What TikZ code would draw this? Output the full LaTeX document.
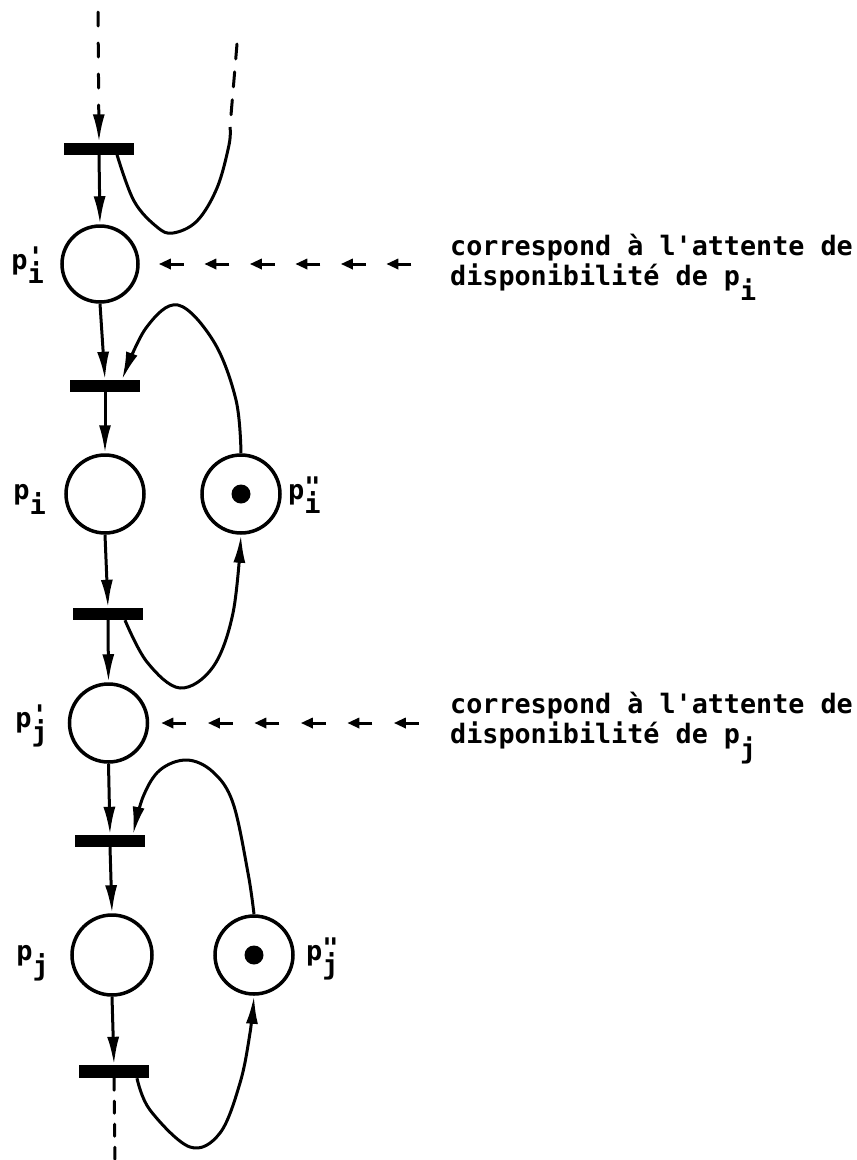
\documentclass[tikz,border=0pt]{standalone}
\usepackage{fontspec}
\usetikzlibrary{arrows.meta,calc}
\newfontfamily\monoreg{DejaVu Sans Mono Bold}
\newfontfamily\monobold{DejaVu Sans Mono Bold}
\newcommand{\labfont}{\monoreg\fontsize{27pt}{31pt}\selectfont}
\newcommand{\txtfont}{\monobold\fontsize{26.75pt}{31pt}\selectfont}
\newcommand{\lowsub}[1]{\raisebox{-15pt}{#1}}
\newcommand{\primesub}[2]{\rlap{\raisebox{3pt}{#1}}\raisebox{-14pt}{#2}}
\tikzset{
  place/.style={circle, draw, line width=3.5pt, minimum size=#1, inner sep=0pt},
  trans/.style={rectangle, fill=black, minimum width=70pt, minimum height=12pt, inner sep=0pt},
  flow/.style={line width=3pt, -{Latex[length=28pt,width=12pt]}},
  loopline/.style={line width=3pt},
  token/.style={circle, fill=black, minimum size=19pt, inner sep=0pt},
  lab/.style={font=\labfont, inner sep=0pt},
  txt/.style={font=\txtfont, inner sep=0pt},
  waitarrow/.style={line width=3pt, -{Triangle[length=12pt,width=10pt]}},
}
\begin{document}
\begin{tikzpicture}[x=1pt,y=-1pt]
\useasboundingbox (0,0) rectangle (857,1160);
% transitions
\node[trans] (t1) at (99,148.5) {};
\node[trans] (t2) at (105,386) {};
\node[trans] (t3) at (108,614) {};
\node[trans] (t4) at (110,841) {};
\node[trans, minimum height=13pt] (t5) at (114,1071.5) {};
% places
\node[place=76pt] (pa) at (100,264) {};
\node[place=78pt] (pb) at (105,494) {};
\node[place=78pt] (pc) at (241,494) {};
\node[place=78pt] (pd) at (108.5,723) {};
\node[place=80pt] (pe) at (112,955) {};
\node[place=78pt] (pf) at (254,955) {};
\node[token] (kc) at (pc) {};
\node[token] (kf) at (pf) {};
% labels
\node[lab, anchor=base east] (la) at (44,269) {p\primesub{\textquotesingle}{i}};
\node[lab, anchor=base east] (lb) at (46,499) {p\lowsub{i}};
\node[lab, anchor=base west] (lc) at (288,499) {p\primesub{\textquotedbl}{i}};
\node[lab, anchor=base east] (ld) at (48,727) {p\primesub{\textquotesingle}{j}};
\node[lab, anchor=base east] (le) at (49,960) {p\lowsub{j}};
\node[lab, anchor=base west] (lf) at (306,960) {p\primesub{\textquotedbl}{j}};
% texts
\node[txt, anchor=base west] (ca) at (450,255) {correspond à l\textquotesingle attente de};
\node[txt, anchor=base west] (cb) at (450,285) {disponibilité de p\lowsub{i}};
\node[txt, anchor=base west] (cc) at (450,713) {correspond à l\textquotesingle attente de};
\node[txt, anchor=base west] (cd) at (450,743) {disponibilité de p\lowsub{j}};
% main column
\coordinate (topin) at (98,12);
\coordinate (botout) at (115,1163);
\draw[flow, dash pattern=on 14pt off 17pt, line cap=round] (topin) -- (t1.north);
\draw[flow] (t1.south) -- (pa.north);
\draw[flow] (pa.south) -- (t2.north);
\draw[flow] (t2.south) -- (pb.north);
\draw[flow] (pb.south) -- (t3.north);
\draw[flow] (t3.south) -- (pd.north);
\draw[flow] (pd.south) -- (t4.north);
\draw[flow] (t4.south) -- (pe.north);
\draw[flow] (pe.south) -- (t5.north);
\draw[loopline, dash pattern=on 12pt off 11pt, line cap=round] (t5.south) -- (botout);
% loop from t1 upwards (dashed tail)
\coordinate (l1a) at (230,127);
\coordinate (l1b) at (237,44);
\draw[loopline] plot[smooth, tension=0.6] coordinates {([xshift=18pt]t1.south) (134,201) (157,227) (173,233) (197,221) (217,188) (229,145) (l1a)};
\draw[loopline, dash pattern=on 15pt off 13pt, line cap=round] (l1b) -- (l1a);
% loop p''_i -> t2
\draw[flow] plot[smooth, tension=0.6] coordinates {(pc.north) (236,400) (214,342) (178,305) (146,328) ([xshift=17pt]t2.north)};
% loop t3 -> p''_i
\draw[flow] plot[smooth, tension=0.6] coordinates {([xshift=17pt]t3.south) (147,662) (180,688) (213,667) (233,613) (pc.south)};
% loop p''_j -> t4
\draw[flow] plot[smooth, tension=0.6] coordinates {(pf.north) (248,873) (233,803) (213,772) (187,760) (160,770) (143,797) ([xshift=23pt]t4.north)};
% loop t5 -> p''_j
\draw[flow] plot[smooth, tension=0.6] coordinates {([xshift=23pt]t5.south) (150,1110) (190,1147) (220,1133) (240,1083) (250,1033) (pf.south)};
% waiting arrows
\foreach \k in {0,...,5}
  \draw[waitarrow] ([xshift={19pt+\k*45.5pt+25pt}]pa.east) -- ([xshift={19pt+\k*45.5pt}]pa.east);
\foreach \k in {0,...,5}
  \draw[waitarrow] ([xshift={12pt+\k*46.5pt+25pt}]pd.east) -- ([xshift={12pt+\k*46.5pt}]pd.east);
\end{tikzpicture}
\end{document}
